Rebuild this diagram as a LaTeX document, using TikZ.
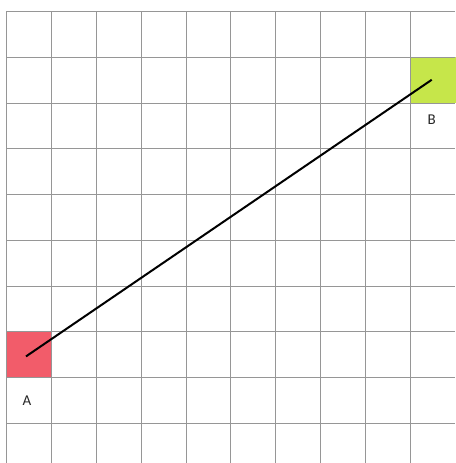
\documentclass[tikz,border=0pt]{standalone}
\usepackage{fontspec}
\setmainfont{Carlito}
\definecolor{sqred}{RGB}{242,92,106}
\definecolor{sqgreen}{RGB}{198,230,74}
\definecolor{gridgray}{RGB}{150,150,150}
\begin{document}
\begin{tikzpicture}[x=1pt,y=-1pt,
  cell/.style={draw=none,minimum width=44.9pt,minimum height=45.7pt,inner sep=0pt,outer sep=0pt},
  gridline/.style={draw=gridgray,line width=1pt},
  lbl/.style={font=\fontsize{15}{17}\selectfont,text=black!85,inner sep=0pt},
  conn/.style={draw=black,line width=2pt}]
\useasboundingbox (0,0) rectangle (455,463);
\fill[white] (0,0) rectangle (455,463);
\node[cell,fill=sqred] (sqA) at (28.8,355.1) {};
\node[cell,fill=sqgreen,minimum width=45pt] (sqB) at (433.5,79.8) {};
\foreach \i in {0,...,9}{
  \draw[gridline] ({6.3+44.93*\i},11.5) -- ({6.3+44.93*\i},463);
  \draw[gridline] (6.3,{11.5+45.76*\i}) -- (455,{11.5+45.76*\i});
}
\draw[conn] ([xshift=-2.8pt,yshift=-1.3pt]sqA.center) -- ([xshift=-1.8pt]sqB.center);
\node[lbl] (labA) at (27,401) {A};
\node[lbl] (labB) at (431.7,119.5) {B};
\end{tikzpicture}
\end{document}
